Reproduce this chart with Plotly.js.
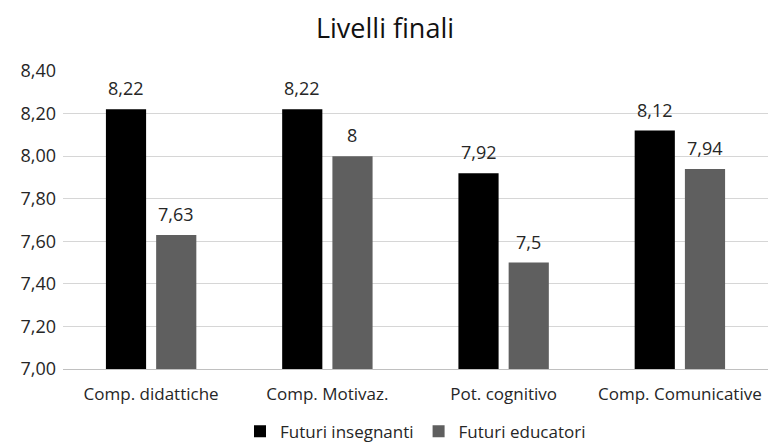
<!DOCTYPE html>
<html><head><meta charset="utf-8">
<script src="https://cdn.plot.ly/plotly-3.0.1.min.js"></script>
<style>html,body{margin:0;padding:0;background:#fff;}#c{width:770px;height:446px;}</style>
</head><body><div id="c"></div>
<script>
const categories = ["Comp. didattiche", "Comp. Motivaz.", "Pot. cognitivo", "Comp. Comunicative"];
const insegnanti = [8.22, 8.22, 7.92, 8.12];
const educatori = [7.63, 8, 7.5, 7.94];
const insegnantiLabels = ["8,22", "8,22", "7,92", "8,12"];
const educatoriLabels = ["7,63", "8", "7,5", "7,94"];
const tickVals = [7.0, 7.2, 7.4, 7.6, 7.8, 8.0, 8.2, 8.4];
const tickText = ["7,00", "7,20", "7,40", "7,60", "7,80", "8,00", "8,20", "8,40"];

const font = "'Open Sans', sans-serif";
const txt = "#262626";
const data = [
  {type:"bar", name:"Futuri insegnanti", x:categories, y:insegnanti, marker:{color:"#000000"}},
  {type:"bar", name:"Futuri educatori", x:categories, y:educatori, marker:{color:"#5f5f5f"}}
];
const annotations = [];
categories.forEach((c, i) => {
  annotations.push({x:c, y:insegnanti[i], text:insegnantiLabels[i], showarrow:false, xshift:-25, yshift:21,
    yanchor:"middle", font:{size:18, color:txt, family:font}});
  annotations.push({x:c, y:educatori[i], text:educatoriLabels[i], showarrow:false, xshift:25, yshift:21,
    yanchor:"middle", font:{size:18, color:txt, family:font}});
});

const layout = {
  width:770, height:446,
  margin:{l:63, r:2, t:71, b:77},
  paper_bgcolor:"#fff", plot_bgcolor:"#fff",
  title:{text:"Livelli finali", font:{size:27, color:"#111", family:font}, x:0.5, xanchor:"center", y:0.937, yanchor:"middle"},
  barmode:"group", bargap:0.43, bargroupgap:0.2,
  annotations:annotations,
  xaxis:{tickfont:{size:17, color:txt, family:font}, showline:true, linecolor:"#c0c0c0", linewidth:1, ticks:"", ticklabelstandoff:10, automargin:false},
  yaxis:{range:[7.0, 8.4], tickvals:tickVals, ticktext:tickText, showgrid:true, gridcolor:"#d6d6d6", gridwidth:1,
         zeroline:false, tickfont:{size:18, color:txt, family:font}, ticks:"", ticklabelstandoff:6, automargin:false},
  showlegend:true,
  legend:{orientation:"h", x:0.5, xanchor:"center", yref:"container", y:0.032, yanchor:"middle",
          font:{size:17, color:txt, family:font}, traceorder:"normal", itemwidth:30, tracegroupgap:0}
};
Plotly.newPlot("c", data, layout, {displayModeBar:false, staticPlot:true});
</script></body></html>
